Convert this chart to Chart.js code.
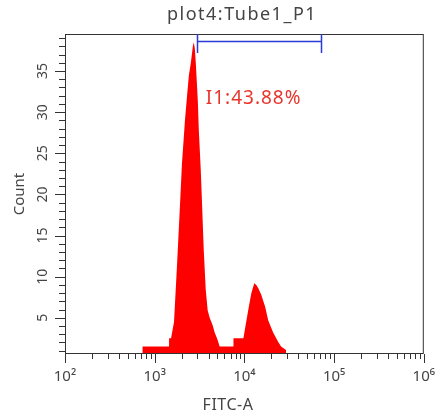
<!DOCTYPE html>
<html>
<head>
<meta charset="utf-8">
<script src="https://cdn.jsdelivr.net/npm/chart.js@4/dist/chart.umd.min.js"></script>
<style>
  html, body { margin: 0; padding: 0; background: #fff; }
  #wrap { width: 441px; height: 420px; }
</style>
</head>
<body>
<div id="wrap"><canvas id="histChart"></canvas></div>
<script>
// histogram outline (FITC-A value, count)
const fitcValues = [
  728, 728, 1446, 1446, 1522, 1642, 1773, 1914, 2014, 2174, 2287, 2405,
  2530, 2663, 2731, 2803, 2875, 3025, 3104, 3265, 3350, 3524, 3707, 3899,
  4102, 4426, 4665, 5032, 5295, 7553, 7553, 9747, 10253, 11066, 11940,
  12885, 13577, 14288, 15417, 17061, 18412, 20904, 23748, 25632, 29121, 29121,
];
const countValues = [
  0.6, 1.5, 1.5, 2.5, 2.5, 4.5, 11.4, 18.7, 23.8, 29.0, 31.8, 34.5,
  36.0, 38.0, 38.5, 37.7, 35.9, 31.4, 27.8, 22.9, 19.7, 13.2, 8.4, 5.9,
  5.0, 4.1, 3.2, 2.3, 1.5, 1.5, 2.5, 2.5, 3.9, 6.0, 8.0,
  9.2, 9.0, 8.6, 7.8, 6.3, 4.7, 3.2, 2.1, 1.5, 1.1, 0.6,
];

const xTickValues = [1e2, 1e3, 1e4, 1e5, 1e6];
const xTickLabels = ["10²", "10³", "10⁴", "10⁵", "10⁶"];
const yLabelValues = [5, 10, 15, 20, 25, 30, 35];

// gate I1
const gateRange = [2950, 71000];
const gateLevel = 38.6;
const gateLabel = "I1:43.88%";
const gateLabelAt = [3707, 31.7];

const plotTitle = "plot4:Tube1_P1";
const xTitle = "FITC-A";

const textColor = "#444";
const lineColor = "#333";

const axisDecor = {
  id: "axisDecor",
  afterDraw(chart) {
    const { ctx, chartArea: area } = chart;
    const x = chart.scales.x;
    const y = chart.scales.y;
    ctx.save();
    ctx.strokeStyle = lineColor;
    ctx.lineWidth = 1;
    ctx.strokeRect(area.left + 0.5, area.top + 0.5, area.right - area.left - 1, area.bottom - area.top - 1);

    // y ticks, one per count, longer every 5
    ctx.beginPath();
    for (let v = Math.ceil(y.min); v <= y.max; v++) {
      const py = Math.round(y.getPixelForValue(v)) + 0.5;
      const len = v % 5 === 0 ? 10 : 6;
      ctx.moveTo(area.left - len, py);
      ctx.lineTo(area.left, py);
    }
    // x ticks, log minors
    for (let d = 2; d <= 6; d++) {
      for (let k = 1; k <= 9; k++) {
        const v = k * Math.pow(10, d);
        if (v < x.min || v > x.max) continue;
        const px = Math.round(x.getPixelForValue(v)) + 0.5;
        const len = k === 1 ? 9 : 5;
        ctx.moveTo(px, area.bottom);
        ctx.lineTo(px, area.bottom + len);
      }
    }
    ctx.stroke();

    // rotated y labels
    ctx.fillStyle = textColor;
    ctx.font = "14px 'Noto Sans'";
    ctx.textAlign = "center";
    ctx.textBaseline = "middle";
    yLabelValues.forEach((v) => {
      ctx.save();
      ctx.translate(area.left - 22, y.getPixelForValue(v));
      ctx.rotate(-Math.PI / 2);
      ctx.fillText(String(v), 0, 0);
      ctx.restore();
    });

    // titles (sit a bit left of the plot centre in the original)
    ctx.font = "18px 'Noto Sans'";
    ctx.letterSpacing = "1.5px";
    ctx.fillText(plotTitle, 242, 15);
    ctx.font = "16px 'Noto Sans'";
    ctx.letterSpacing = "0.5px";
    ctx.fillText(xTitle, 228, 405);

    // gate bar
    const gx1 = Math.round(x.getPixelForValue(gateRange[0])) + 0.5;
    const gx2 = Math.round(x.getPixelForValue(gateRange[1])) + 0.5;
    const gy = Math.round(y.getPixelForValue(gateLevel)) + 0.5;
    ctx.strokeStyle = "#2b3bd6";
    ctx.lineWidth = 1.5;
    ctx.beginPath();
    ctx.moveTo(gx1, gy);
    ctx.lineTo(gx2, gy);
    ctx.moveTo(gx1, area.top);
    ctx.lineTo(gx1, y.getPixelForValue(gateLevel - 1.4));
    ctx.moveTo(gx2, area.top);
    ctx.lineTo(gx2, y.getPixelForValue(gateLevel - 1.4));
    ctx.stroke();

    ctx.fillStyle = "#e8352c";
    ctx.font = "19px 'Noto Sans'";
    ctx.letterSpacing = "1px";
    ctx.textAlign = "left";
    ctx.fillText(gateLabel, x.getPixelForValue(gateLabelAt[0]), y.getPixelForValue(gateLabelAt[1]));
    ctx.restore();
  },
};

const ctx = document.getElementById("histChart").getContext("2d");

const histChart = new Chart(ctx, {
  type: "line",
  data: {
    datasets: [
      {
        label: "FITC-A",
        data: fitcValues.map((v, i) => ({ x: v, y: countValues[i] })),
        backgroundColor: "#ff0000",
        borderColor: "#ff0000",
        borderWidth: 0,
        pointRadius: 0,
        tension: 0,
        fill: "start",
      },
    ],
  },
  options: {
    responsive: true,
    maintainAspectRatio: false,
    animation: false,
    layout: {
      padding: { left: 0, right: 14, top: 34, bottom: 0 },
    },
    plugins: {
      legend: { display: false },
      tooltip: { enabled: false },
      title: { display: false },
    },
    scales: {
      x: {
        type: "logarithmic",
        min: 100,
        max: 1e6,
        afterBuildTicks: (scale) => {
          scale.ticks = xTickValues.map((v) => ({ value: v }));
        },
        afterFit: (scale) => {
          scale.height = 66;
        },
        grid: { display: false, drawTicks: true, tickLength: 8 },
        border: { display: false },
        ticks: {
          color: textColor,
          font: { family: "'Noto Sans'", size: 15 },
          padding: 6,
          maxRotation: 0,
          autoSkip: false,
          callback: (value) => xTickLabels[xTickValues.indexOf(value)] || "",
        },
      },
      y: {
        min: 0.6,
        max: 39.5,
        afterFit: (scale) => {
          scale.width = 65;
        },
        grid: { display: false },
        border: { display: false },
        ticks: { display: false },
        title: {
          display: true,
          text: "Count",
          color: textColor,
          font: { family: "'Noto Sans'", size: 15 },
          padding: { top: 11, bottom: 0 },
        },
      },
    },
  },
  plugins: [axisDecor],
});
</script>
</body>
</html>
